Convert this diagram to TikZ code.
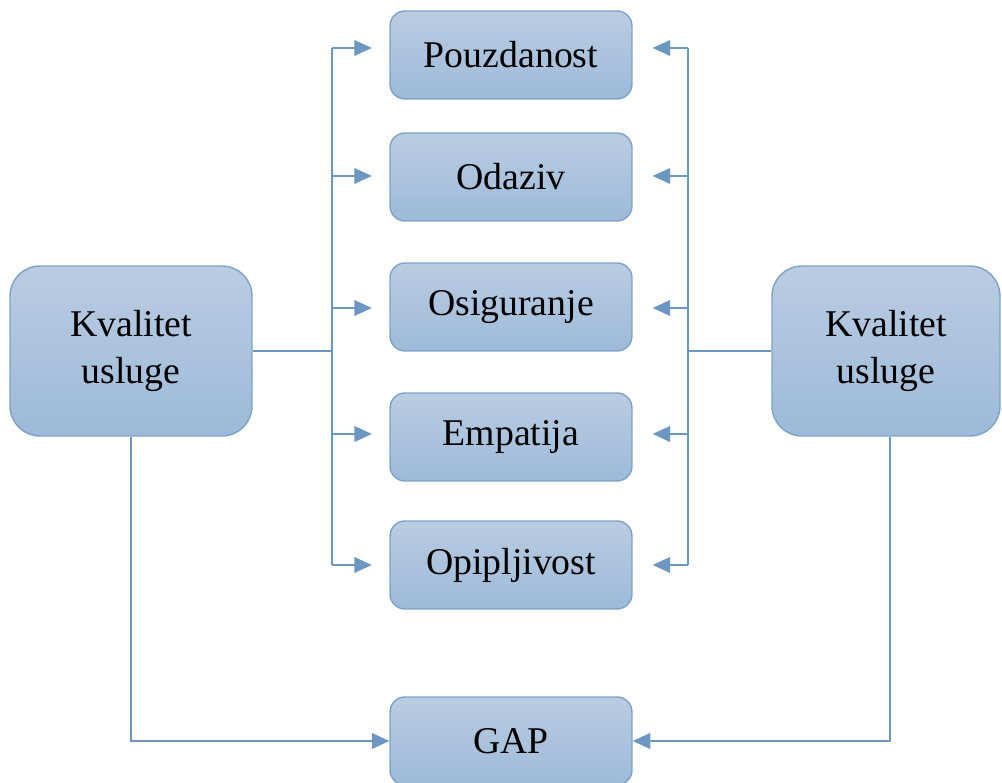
\documentclass[tikz,border=0pt]{standalone}
\usepackage{fontspec}
\setmainfont{Liberation Serif}
\usepackage{tikz}
\usetikzlibrary{arrows.meta, positioning, calc}

\definecolor{boxtop}{HTML}{BACCE2}
\definecolor{boxbot}{HTML}{9DBAD8}
\definecolor{boxedge}{HTML}{7DA2CA}
\definecolor{linkcol}{HTML}{6D97C3}

\begin{document}
\begin{tikzpicture}[
      x=0.02cm, y=-0.02cm,
      font=\fontsize{21.5}{26.5}\selectfont,
      dim/.style={draw=boxedge, line width=0.8pt, top color=boxtop, bottom color=boxbot,
                  minimum width=4.84cm, minimum height=1.76cm, rounded corners=8.5pt,
                  inner sep=2pt, align=center},
      qual/.style={dim, minimum height=3.4cm, rounded corners=17pt},
      link/.style={draw=linkcol, line width=0.85pt},
      arr/.style={link, -{Triangle[length=10pt, width=9pt]}},
    ]
    \useasboundingbox (0,0) rectangle (1002,783);

    \node[qual] (kvl) at (131,351) {Kvalitet\\usluge};
    \node[qual, minimum width=4.56cm] (kvr) at (886,351) {Kvalitet\\usluge};

    \node[dim] (pouz) at (511,55)  {Pouzdanost};
    \node[dim] (odz)  at (511,177) {Odaziv};
    \node[dim] (osig) at (511,307) {Osiguranje};
    \node[dim] (emp)  at (511,437) {Empatija};
    \node[dim] (opip) at (511,565) {Opipljivost};
    \node[dim] (gap)  at (511,741) {GAP};

    % trunks on both sides of the dimension column
    \foreach \n/\y in {pouz/48, odz/176, osig/308, emp/434, opip/565} {
      \coordinate (l\n) at (332,\y);
      \coordinate (r\n) at (688,\y);
      \draw[arr, shorten >=0.35cm] (l\n) -- (\n.west |- l\n);
      \draw[arr, shorten >=0.4cm] (r\n) -- (\n.east |- r\n);
    }
    \draw[link] (lpouz) -- (lopip);
    \draw[link] (rpouz) -- (ropip);
    \draw[link] (kvl.east) -- (kvl.east -| lpouz);
    \draw[link] (kvr.west) -- (kvr.west -| rpouz);

    \draw[arr] (kvl.south) |- (gap.west);
    \draw[arr] ($(kvr.south)+(4,0)$) |- (gap.east);
  \end{tikzpicture}
\end{document}
